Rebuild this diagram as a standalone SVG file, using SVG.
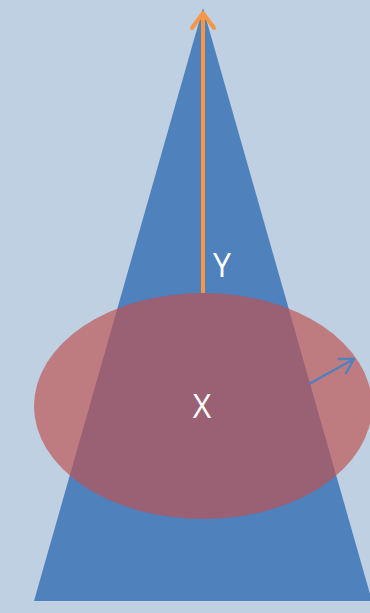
<svg xmlns="http://www.w3.org/2000/svg" width="370" height="613" viewBox="0 0 370 613">
  <defs>
    <style>
      .lbl { font-family: "Open Sans", "Liberation Sans", Arial, sans-serif; font-size: 32px; fill: #ffffff; text-anchor: middle; }
    </style>
  </defs>
  <rect x="0" y="0" width="370" height="613" fill="#bed0e2"/>
  <g id="cone">
    <polygon points="203,8 34,601 372,601" fill="#4f81bd"/>
  </g>
  <g id="ellipse">
    <ellipse cx="203" cy="406" rx="169" ry="113" fill="#c0504d" fill-opacity="0.66"/>
  </g>
  <g id="connectors">
    <line x1="203" y1="293" x2="203" y2="13" stroke="#f79646" stroke-width="4"/>
    <polyline points="192,28 203,13 214,28" fill="none" stroke="#f79646" stroke-width="4" stroke-linecap="round" stroke-linejoin="round"/>
    <line x1="309" y1="384" x2="354" y2="359" stroke="#4f81bd" stroke-width="2.5"/>
    <polyline points="339,359 354,359 346,373" fill="none" stroke="#4f81bd" stroke-width="2.5" stroke-linecap="round" stroke-linejoin="round"/>
  </g>
  <g id="label-y">
    <text class="lbl" x="222" y="277">Y</text>
  </g>
  <g id="label-x">
    <text class="lbl" x="202" y="418">X</text>
  </g>
</svg>
